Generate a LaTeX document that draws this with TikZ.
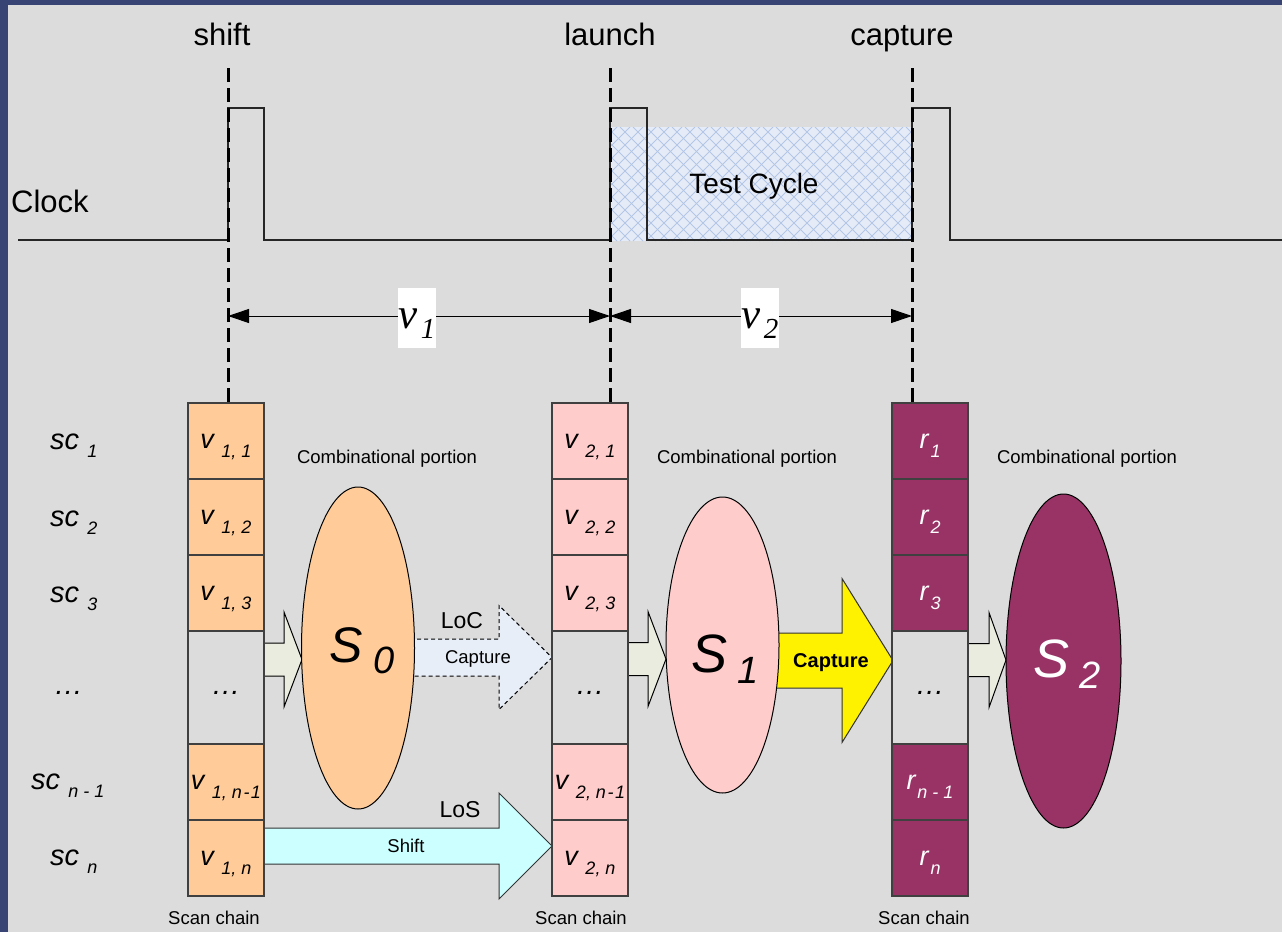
\documentclass[tikz,border=0pt]{standalone}
\usepackage{fontspec}
\setmainfont{Liberation Sans}
\newfontfamily\timesfont{Liberation Serif}
\usetikzlibrary{arrows.meta,calc,shapes.geometric}
\definecolor{bgblue}{RGB}{56,68,116}
\definecolor{bggray}{RGB}{220,220,220}
\definecolor{peach}{RGB}{255,204,153}
\definecolor{pinkc}{RGB}{255,204,204}
\definecolor{maroonc}{RGB}{153,51,102}
\definecolor{beigec}{RGB}{234,236,224}
\definecolor{loccol}{RGB}{232,238,248}
\definecolor{loscol}{RGB}{204,255,255}
\definecolor{hatchfill}{RGB}{230,236,247}
\definecolor{hatchline}{RGB}{180,198,230}
\newcommand{\fs}[1]{\fontsize{#1pt}{#1pt}\selectfont}
\newcommand{\sublab}[2]{{\itshape\fs{27}#1\ \raisebox{-9pt}{\fs{18}#2}}}
\newcommand{\sclabel}[2]{{\itshape\fs{29}#1\ \raisebox{-8pt}{\fs{18}#2}}}
\newcommand{\rlab}[2]{{\itshape\fs{27}#1\hspace{2pt}\raisebox{-9pt}{\fs{18}#2}}}
\newcommand{\slab}[2]{{\itshape\fs{#1}S\hspace{10pt}\raisebox{-11pt}{\fs{38}#2}}}
\newcommand{\vlab}[1]{{\timesfont\itshape\fs{43}v\hspace{3pt}\raisebox{-10pt}{\fs{29}#1}}}
\newcommand{\nmo}{n\kern1.5pt-\kern1.5pt1}
\newcommand{\blockarrow}[6]{%
  \draw[#1] let \p1=(#2), \p2=(#3) in
    (\x1,\y1+#4) -- (\x2-#6,\y1+#4) -- (\x2-#6,\y1+#5) -- (\x2,\y1)
    -- (\x2-#6,\y1-#5) -- (\x2-#6,\y1-#4) -- (\x1,\y1-#4) -- cycle;}
\tikzset{
  cellbox/.style={draw=black!75, line width=1.1pt, minimum width=76pt, minimum height=76pt,
    inner sep=0pt, text height=20pt, text depth=6pt},
  dotbox/.style={cellbox, fill=bggray, minimum height=113pt},
  vbox/.style={fill=white, minimum width=38pt, minimum height=60pt, inner sep=0pt,
    text height=24pt, text depth=4pt},
  dashline/.style={line width=3pt, dash pattern=on 14pt off 6pt, black},
  dim/.style={line width=1pt, {Triangle[length=21pt,width=14pt]}-{Triangle[length=21pt,width=14pt]}},
  wave/.style={line width=1.3pt, black!85},
  comb/.style={ellipse, draw=black, line width=1pt, inner sep=0pt},
  beigearrow/.style={fill=beigec, draw=black, line width=1pt},
  txt/.style={inner sep=0pt, anchor=base},
  sclab/.style={inner sep=0pt, anchor=base west}
}
\begin{document}
\begin{tikzpicture}[x=1pt,y=-1pt]
% background
\fill[bgblue] (0,0) rectangle (1282,932);
\fill[bggray] (8,5) rectangle (1282,932);
\useasboundingbox (0,0) rectangle (1282,932);

% test cycle hatch
\begin{scope}
  \clip (609,127) rectangle (912,241);
  \fill[hatchfill] (609,127) rectangle (912,241);
  \foreach \a in {490,503,...,925} {
    \draw[hatchline, line width=1pt] (\a,241) -- ++(114,-114);
    \draw[hatchline, line width=1pt] (\a,127) -- ++(114,114);
  }
\end{scope}
\node[txt] (tc) at (754,193) {\fs{28}Test Cycle};

% clock waveform
\draw[wave] (18,240) -- (228,240) -- (228,108) -- (264,108) -- (264,240) -- (610,240)
  -- (610,108) -- (647,108) -- (647,240) -- (912,240) -- (912,108) -- (950,108)
  -- (950,240) -- (1282,240);
\node[sclab] (clock) at (11,212) {\fs{31}Clock};

% event labels
\node[txt] (shiftlab) at (222,45) {\fs{31}shift};
\node[txt] (launchlab) at (610,45) {\fs{31}launch};
\node[txt] (capturelab) at (902,45) {\fs{31}capture};

% block arrows (under the cells and ellipses)
\coordinate (bA1) at (262,659.5); \coordinate (bA2) at (302,659.5);
\coordinate (bB1) at (626,659);   \coordinate (bB2) at (666,659);
\coordinate (bC1) at (966,660);   \coordinate (bC2) at (1006,660);
\coordinate (loc1) at (410,657.5); \coordinate (loc2) at (552,657.5);
\coordinate (los1) at (262,846);  \coordinate (los2) at (552,846);
\coordinate (cap1) at (775,660.5); \coordinate (cap2) at (893,660.5);
\blockarrow{beigearrow}{bA1}{bA2}{16.5pt}{47.5pt}{18pt}
\blockarrow{beigearrow}{bB1}{bB2}{16.5pt}{47.5pt}{18pt}
\blockarrow{beigearrow}{bC1}{bC2}{16.5pt}{47.5pt}{17pt}
\blockarrow{fill=loccol, draw=black, line width=1pt, dash pattern=on 4pt off 3pt}{loc1}{loc2}{18.5pt}{52pt}{53pt}
\blockarrow{fill=loscol, draw=black!80, line width=1pt}{los1}{los2}{18pt}{53pt}{53pt}
\blockarrow{fill=yellow, draw=black!80, line width=1pt}{cap1}{cap2}{27.5pt}{82pt}{51pt}

% scan chain 1
\node[cellbox, fill=peach] (a1) at (226,441) {\sublab{v}{1, 1}};
\node[cellbox, fill=peach] (a2) at (226,517) {\sublab{v}{1, 2}};
\node[cellbox, fill=peach] (a3) at (226,593) {\sublab{v}{1, 3}};
\node[dotbox] (a4) at (226,687.5) {\itshape\fs{29}…};
\node[cellbox, fill=peach] (a5) at (226,782) {\sublab{v}{1, \nmo}};
\node[cellbox, fill=peach] (a6) at (226,858) {\sublab{v}{1, n}};
% scan chain 2
\node[cellbox, fill=pinkc] (b1) at (590,441) {\sublab{v}{2, 1}};
\node[cellbox, fill=pinkc] (b2) at (590,517) {\sublab{v}{2, 2}};
\node[cellbox, fill=pinkc] (b3) at (590,593) {\sublab{v}{2, 3}};
\node[dotbox] (b4) at (590,687.5) {\itshape\fs{29}…};
\node[cellbox, fill=pinkc] (b5) at (590,782) {\sublab{v}{2, \nmo}};
\node[cellbox, fill=pinkc] (b6) at (590,858) {\sublab{v}{2, n}};
% scan chain 3
\node[cellbox, fill=maroonc, text=white] (r1) at (930,441) {\rlab{r}{1}};
\node[cellbox, fill=maroonc, text=white] (r2) at (930,517) {\rlab{r}{2}};
\node[cellbox, fill=maroonc, text=white] (r3) at (930,593) {\rlab{r}{3}};
\node[dotbox] (r4) at (930,687.5) {\itshape\fs{29}…};
\node[cellbox, fill=maroonc, text=white] (r5) at (930,782) {\rlab{r}{n - 1}};
\node[cellbox, fill=maroonc, text=white] (r6) at (930,858) {\rlab{r}{n}};

% dashed time markers
\coordinate (sT) at (228,68);
\coordinate (lT) at (610,68);
\coordinate (cT) at (912,68);
\draw[dashline] (sT) -- (sT |- a1.north);
\draw[dashline] (lT) -- (lT |- b1.north);
\draw[dashline] (cT) -- (cT |- r1.north);

% dimension arrows
\coordinate (d1) at (228,316);
\coordinate (d2) at (610,316);
\coordinate (d3) at (912,316);
\draw[dim] (d1) -- (d2);
\draw[dim] (d2) -- (d3);
\node[vbox] (v1) at (417,318) {\vlab{1}};
\node[vbox] (v2) at (760,318) {\vlab{2}};

% combinational portions
\node[comb, fill=peach, minimum width=113pt, minimum height=322pt] (S0) at (358,648) {};
\node[comb, fill=pinkc, minimum width=113pt, minimum height=296pt] (S1) at (722.5,645) {};
\node[comb, fill=maroonc, minimum width=115pt, minimum height=334pt] (S2) at (1063.5,661) {};
\node[txt] (S0lab) at (362,662) {\slab{50}{0}};
\node[txt] (S1lab) at (725,672) {\slab{54}{1}};
\node[txt, text=white] (S2lab) at (1067,677) {\slab{54}{2}};

% arrow texts
\node[txt] (loclab) at (462,628) {\fs{23}LoC};
\node[txt] (loccap) at (478,663) {\fs{18.5}Capture};
\node[txt] (loslab) at (460,817) {\fs{23}LoS};
\node[txt] (losshift) at (406,852) {\fs{18.5}Shift};
\node[txt] (capbold) at (831,667) {\fs{20}\bfseries Capture};

% comb portion labels
\node[txt] (cp0) at (387,463) {\fs{18.5}Combinational portion};
\node[txt] (cp1) at (747,463) {\fs{18.5}Combinational portion};
\node[txt] (cp2) at (1087,463) {\fs{18.5}Combinational portion};

% scan chain labels
\node[txt] (scan1) at (214,924) {\fs{18.5}Scan chain};
\node[txt] (scan2) at (581,924) {\fs{18.5}Scan chain};
\node[txt] (scan3) at (924,924) {\fs{18.5}Scan chain};

% left row labels
\node[sclab] (sc1) at (50,449) {\sclabel{sc}{1}};
\node[sclab] (sc2) at (50,526) {\sclabel{sc}{2}};
\node[sclab] (sc3) at (50,602) {\sclabel{sc}{3}};
\node[sclab] (scd) at (54,694) {\itshape\fs{29}…};
\node[sclab] (scn1) at (31,789) {\sclabel{sc}{n - 1}};
\node[sclab] (scn) at (50,865) {\sclabel{sc}{n}};
\end{tikzpicture}
\end{document}
